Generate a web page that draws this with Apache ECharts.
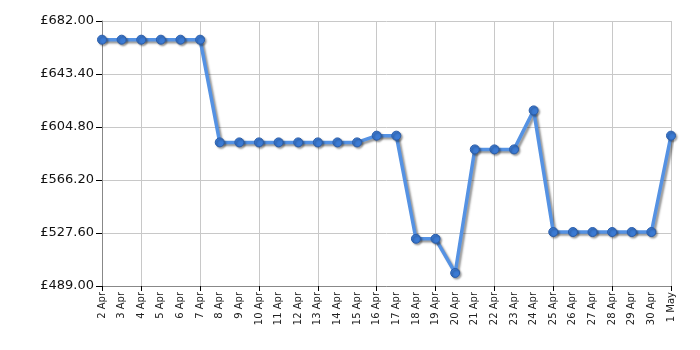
<!DOCTYPE html>
<html><head><meta charset="utf-8">
<script src="https://cdn.jsdelivr.net/npm/echarts@6/dist/echarts.min.js"></script>
<style>html,body{margin:0;padding:0;background:#fff}#c{width:700px;height:350px}</style>
</head><body><div id="c"></div>
<script>
const categories = ['2 Apr','3 Apr','4 Apr','5 Apr','6 Apr','7 Apr','8 Apr','9 Apr','10 Apr','11 Apr','12 Apr','13 Apr','14 Apr','15 Apr','16 Apr','17 Apr','18 Apr','19 Apr','20 Apr','21 Apr','22 Apr','23 Apr','24 Apr','25 Apr','26 Apr','27 Apr','28 Apr','29 Apr','30 Apr','1 May'];
const prices = [668.4,668.4,668.4,668.4,668.4,668.4,593.6,593.6,593.6,593.6,593.6,593.6,593.6,593.6,598.5,598.5,523.4,523.4,498.5,588.5,588.5,588.5,616.9,528.3,528.3,528.3,528.3,528.3,528.3,598.5];
const yMin = 489.0, yMax = 682.0, yStep = 38.6;

const showIdx = (i) => i === 0 || (i >= 2 && (i - 2) % 3 === 0);
const chart = echarts.init(document.getElementById('c'), null, {renderer: 'canvas'});
chart.setOption({
  animation: false,
  grid: {left: 102, right: 29, top: 21, bottom: 64},
  xAxis: {
    type: 'category', data: categories, boundaryGap: false,
    axisLine: {lineStyle: {color: '#888', width: 1}},
    axisTick: {show: true, interval: (i) => showIdx(i), length: 5, lineStyle: {color: '#000'}},
    splitLine: {show: true, interval: (i) => showIdx(i), lineStyle: {color: '#c8c8c8', width: 1}},
    axisLabel: {interval: 0, rotate: 90, fontFamily: 'DejaVu Sans', fontSize: 10, color: '#222', margin: 6}
  },
  yAxis: {
    type: 'value', min: yMin, max: yMax, interval: yStep,
    axisLine: {show: true, lineStyle: {color: '#888'}},
    axisTick: {show: true, length: 6, lineStyle: {color: '#000'}},
    splitLine: {show: true, lineStyle: {color: '#c8c8c8', width: 1}},
    axisLabel: {fontFamily: 'DejaVu Sans', fontSize: 13, color: '#111', margin: 8,
      formatter: (v) => '£' + v.toFixed(2)}
  },
  series: [{
    type: 'line', data: prices, symbol: 'circle', symbolSize: 9,
    lineStyle: {color: '#5592e3', width: 3.5, shadowColor: 'rgba(0,0,0,0.4)', shadowBlur: 2, shadowOffsetX: 2, shadowOffsetY: 2},
    itemStyle: {color: '#3b7ad3', borderColor: '#2a5daa', borderWidth: 1, shadowColor: 'rgba(0,0,0,0.35)', shadowBlur: 2, shadowOffsetX: 1.5, shadowOffsetY: 1.5}
  }]
});
</script></body></html>
